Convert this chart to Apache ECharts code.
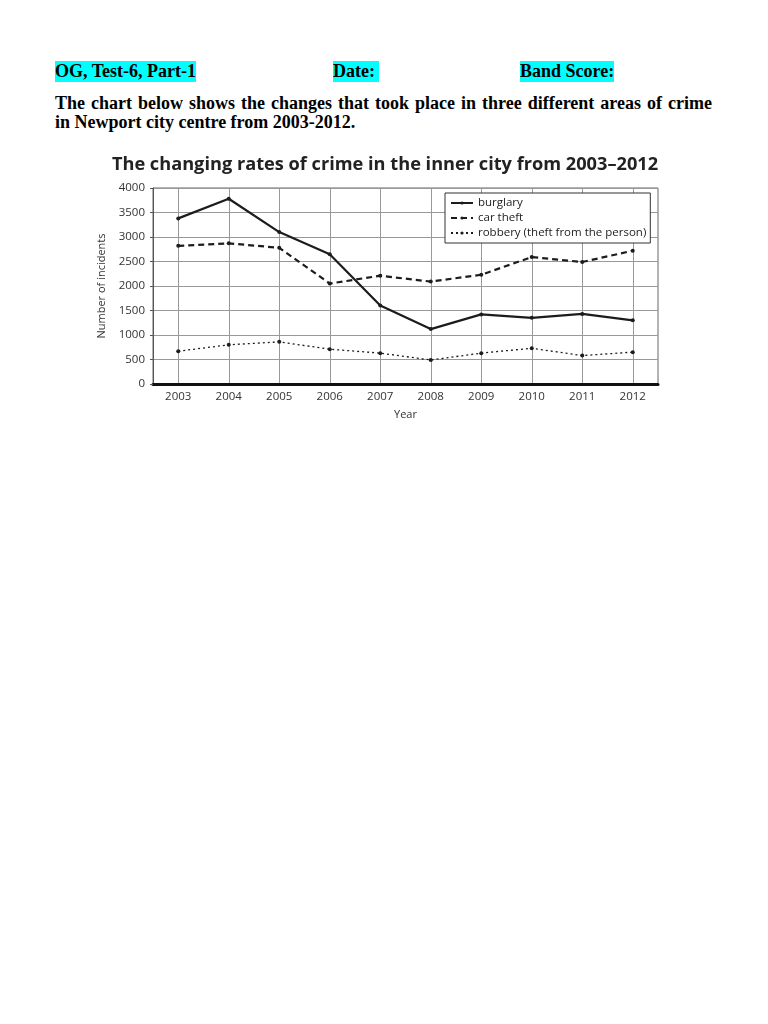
<!DOCTYPE html>
<html>
<head>
<meta charset="utf-8">
<script src="https://cdn.jsdelivr.net/npm/echarts@6/dist/echarts.min.js"></script>
<style>
  body { margin: 0; background: #fff; width: 768px; height: 1024px; position: relative; }
  .hd { position: absolute; top: 61px; font: bold 18px "Liberation Serif", serif; line-height: 21px; background: #00ffff; color: #000; }
  .txt { position: absolute; left: 55px; width: 657px; font: bold 18px "Liberation Serif", serif; line-height: 20px; color: #000; white-space: nowrap; }
  .j { text-align: justify; text-align-last: justify; }
  #main { position: absolute; left: 85px; top: 145px; width: 600px; height: 280px; }
</style>
</head>
<body>
<span class="hd" style="left:55px">OG, Test-6, Part-1</span>
<span class="hd" style="left:333px">Date:&nbsp;</span>
<span class="hd" style="left:520px">Band Score:</span>
<div class="txt j" style="top:93px">The chart below shows the changes that took place in three different areas of crime</div>
<div class="txt" style="top:112px">in Newport city centre from 2003-2012.</div>
<div id="main"></div>
<script>
// 数据
var years = ['2003', '2004', '2005', '2006', '2007', '2008', '2009', '2010', '2011', '2012'];
var burglary = [3380, 3780, 3100, 2650, 1600, 1120, 1420, 1350, 1430, 1300];
var carTheft = [2820, 2870, 2780, 2050, 2210, 2090, 2230, 2590, 2490, 2720];
var robbery = [670, 800, 860, 710, 630, 490, 630, 730, 580, 650];
var names = ['burglary', 'car theft', 'robbery (theft from the person)'];

var mychart = echarts.init(document.getElementById('main'));
var fontFam = '"Open Sans", "DejaVu Sans", sans-serif';
var ink = '#1c1c1c';

var option = {
    backgroundColor: '#fff',
    animation: false,
    title: {
        text: 'The changing rates of crime in the inner city from 2003\u20132012',
        left: 'center',
        top: 6,
        textStyle: { fontFamily: fontFam, fontSize: 18.2, fontWeight: 700, color: '#222' }
    },
    legend: {
        data: names,
        orient: 'vertical',
        left: 360,
        top: 48,
        padding: [4, 4, 4, 5],
        itemGap: 3,
        itemWidth: 22,
        itemHeight: 4,
        borderColor: '#333',
        borderWidth: 1,
        backgroundColor: '#fff',
        textStyle: { fontFamily: fontFam, fontSize: 11.5, color: '#222', lineHeight: 12 }
    },
    grid: {
        left: 68, right: 27, top: 43, bottom: 38,
        show: true,
        borderColor: '#666',
        borderWidth: 1
    },
    xAxis: {
        type: 'category',
        data: years,
        boundaryGap: true,
        name: 'Year',
        nameLocation: 'middle',
        nameGap: 25,
        nameTextStyle: { fontFamily: fontFam, fontSize: 11, color: '#333' },
        axisLine: { lineStyle: { color: '#111', width: 3 } },
        axisTick: { show: false, alignWithLabel: true },
        axisLabel: { fontFamily: fontFam, fontSize: 11.5, fontWeight: 500, color: '#333', margin: 7 },
        splitLine: { show: true, alignWithLabel: true, lineStyle: { color: '#999', width: 1 } }
    },
    yAxis: {
        type: 'value',
        min: 0,
        max: 4000,
        interval: 500,
        name: 'Number of incidents',
        nameLocation: 'middle',
        nameGap: 44,
        nameTextStyle: { fontFamily: fontFam, fontSize: 11, color: '#333' },
        axisLine: { show: true, lineStyle: { color: '#555', width: 1 } },
        axisTick: { show: true, length: 3, lineStyle: { color: '#555' } },
        axisLabel: {
            fontFamily: fontFam, fontSize: 11.5, color: '#333', margin: 8,
            formatter: function(v) { return String(v); }
        },
        splitLine: { show: true, lineStyle: { color: '#999', width: 1 } }
    },
    series: [{
        name: names[0],
        type: 'line',
        data: burglary,
        symbol: 'circle',
        symbolSize: 4,
        itemStyle: { color: ink },
        lineStyle: { color: ink, width: 2.2, type: 'solid' },
        z: 5
    }, {
        name: names[1],
        type: 'line',
        data: carTheft,
        symbol: 'circle',
        symbolSize: 4,
        itemStyle: { color: ink },
        lineStyle: { color: ink, width: 2.2, type: [6, 4] },
        z: 4
    }, {
        name: names[2],
        type: 'line',
        data: robbery,
        symbol: 'circle',
        symbolSize: 4,
        itemStyle: { color: ink },
        lineStyle: { color: ink, width: 1.3, type: [2, 3] },
        z: 3
    }]
};
mychart.setOption(option);
</script>
</body>
</html>
